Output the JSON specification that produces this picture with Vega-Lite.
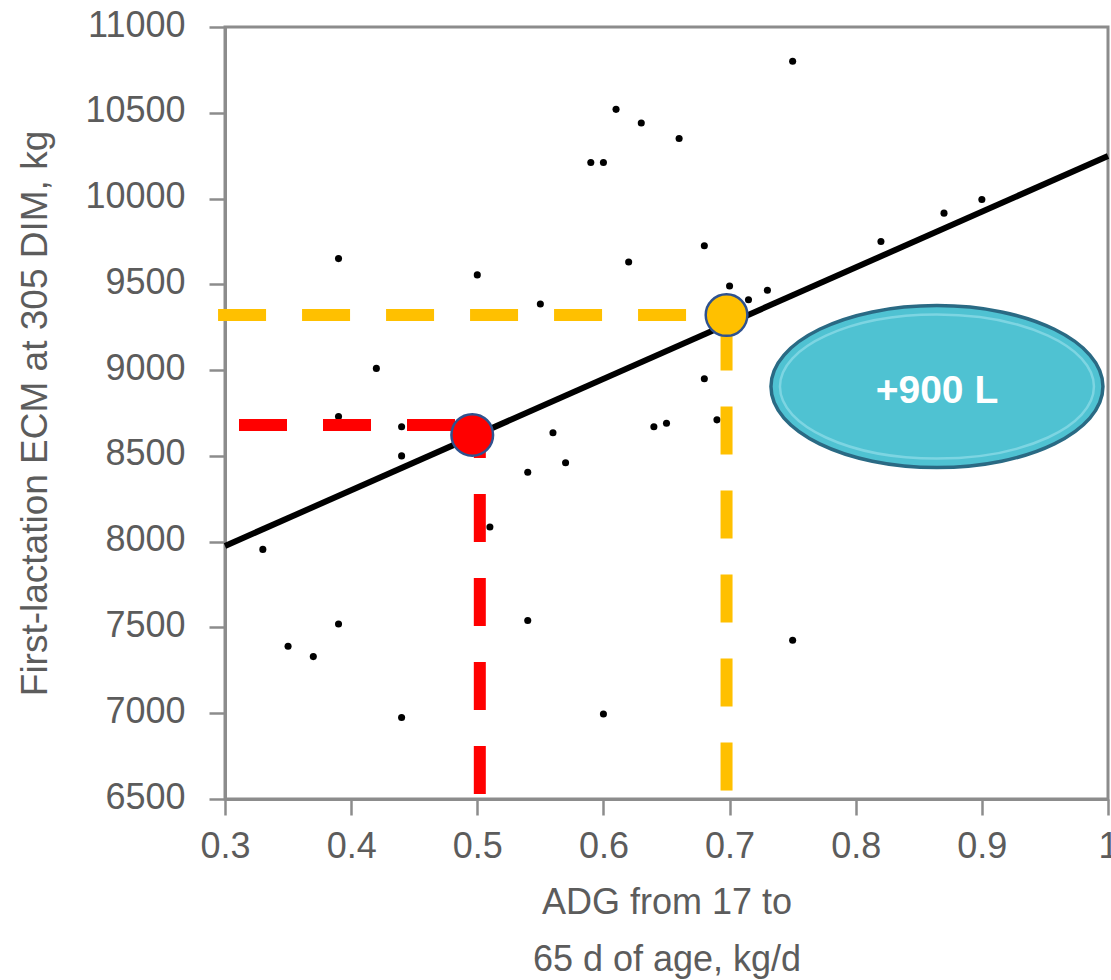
{
  "$schema": "https://vega.github.io/schema/vega-lite/v6.json",
  "width": 883,
  "height": 772,
  "autosize": {"type": "none"},
  "padding": {"left": 225, "top": 27, "right": 3, "bottom": 181},
  "background": "white",
  "config": {
    "view": {"stroke": "#8c8c8c", "strokeWidth": 3},
    "axis": {
      "grid": false,
      "domainColor": "#8c8c8c",
      "domainWidth": 3,
      "tickColor": "#8c8c8c",
      "tickWidth": 2.5,
      "tickSize": 16,
      "labelFont": "Liberation Sans",
      "labelFontSize": 36,
      "labelColor": "#5c5c5c",
      "labelOverlap": false,
      "labelBound": false,
      "labelFlush": false,
      "titleFont": "Liberation Sans",
      "titleFontWeight": "normal",
      "titleColor": "#5c5c5c"
    }
  },
  "datasets": {
    "points": [
      {"x": 0.33, "y": 7955}, {"x": 0.35, "y": 7390}, {"x": 0.37, "y": 7330},
      {"x": 0.39, "y": 9650}, {"x": 0.39, "y": 8730}, {"x": 0.39, "y": 7520},
      {"x": 0.42, "y": 9010}, {"x": 0.44, "y": 8670}, {"x": 0.44, "y": 8500},
      {"x": 0.44, "y": 6975}, {"x": 0.50, "y": 9555}, {"x": 0.51, "y": 8085},
      {"x": 0.54, "y": 8405}, {"x": 0.54, "y": 7540}, {"x": 0.55, "y": 9385},
      {"x": 0.56, "y": 8635}, {"x": 0.57, "y": 8460}, {"x": 0.59, "y": 10210},
      {"x": 0.60, "y": 10210}, {"x": 0.60, "y": 6995}, {"x": 0.61, "y": 10520},
      {"x": 0.62, "y": 9630}, {"x": 0.63, "y": 10440}, {"x": 0.64, "y": 8670},
      {"x": 0.65, "y": 8690}, {"x": 0.66, "y": 10350}, {"x": 0.68, "y": 9725},
      {"x": 0.68, "y": 8950}, {"x": 0.69, "y": 8710}, {"x": 0.70, "y": 9490},
      {"x": 0.715, "y": 9410}, {"x": 0.73, "y": 9465}, {"x": 0.75, "y": 10800},
      {"x": 0.75, "y": 7425}, {"x": 0.82, "y": 9750}, {"x": 0.87, "y": 9915},
      {"x": 0.90, "y": 9995}
    ],
    "fit": [
      {"x": 0.3, "y": 7975},
      {"x": 1.0, "y": 10248}
    ],
    "guides": [
      {"name": "low", "dir": "h", "x": 0.3111, "y": 8680, "x2": 0.502, "y2": 8680},
      {"name": "low", "dir": "v", "x": 0.502, "y": 8680, "x2": 0.502, "y2": 6500},
      {"name": "high", "dir": "h", "x": 0.2945, "y": 9321, "x2": 0.6976, "y2": 9321},
      {"name": "high", "dir": "v", "x": 0.6976, "y": 9321, "x2": 0.6976, "y2": 6500}
    ],
    "markers": [
      {"name": "low", "x": 0.496, "y": 8622},
      {"name": "high", "x": 0.6976, "y": 9321}
    ],
    "note": [
      {"x": 0.8644, "y": 8904, "label": "+900 L"}
    ]
  },
  "encoding": {
    "x": {
      "field": "x",
      "type": "quantitative",
      "scale": {"domain": [0.3, 1.0], "nice": false, "zero": false},
      "axis": {
        "values": [0.3, 0.4, 0.5, 0.6, 0.7, 0.8, 0.9, 1.0],
        "format": ".1~f",
        "labelPadding": 14,
        "title": ["ADG from 17 to", "65 d of age, kg/d"],
        "titleFontSize": 36,
        "titleLineHeight": 57,
        "titleX": 441.5,
        "titleY": 114,
        "titleAlign": "center",
        "titleBaseline": "alphabetic"
      }
    },
    "y": {
      "field": "y",
      "type": "quantitative",
      "scale": {"domain": [6500, 11000], "nice": false, "zero": false},
      "axis": {
        "values": [6500, 7000, 7500, 8000, 8500, 9000, 9500, 10000, 10500, 11000],
        "format": "d",
        "labelPadding": 24,
        "labelOffset": -2,
        "title": "First-lactation ECM at 305 DIM, kg",
        "titleFontSize": 37,
        "titleAngle": -90,
        "titleX": -179,
        "titleY": 386,
        "titleAlign": "center",
        "titleBaseline": "alphabetic"
      }
    }
  },
  "layer": [
    {
      "data": {"name": "points"},
      "mark": {"type": "circle", "size": 50, "color": "#000000", "opacity": 1}
    },
    {
      "data": {"name": "fit"},
      "mark": {"type": "line", "color": "#000000", "strokeWidth": 6},
      "encoding": {}
    },
    {
      "data": {"name": "guides"},
      "transform": [{"filter": "datum.name === 'low' && datum.dir === 'h'"}],
      "mark": {"type": "rule", "color": "#FF0000", "strokeWidth": 12, "strokeDash": [48, 36], "strokeDashOffset": 0, "strokeCap": "butt"},
      "encoding": {"x2": {"field": "x2"}, "y2": {"field": "y2"}}
    },
    {
      "data": {"name": "guides"},
      "transform": [{"filter": "datum.name === 'low' && datum.dir === 'v'"}],
      "mark": {"type": "rule", "color": "#FF0000", "strokeWidth": 12, "strokeDash": [48, 36], "strokeDashOffset": 15, "strokeCap": "butt"},
      "encoding": {"x2": {"field": "x2"}, "y2": {"field": "y2"}}
    },
    {
      "data": {"name": "guides"},
      "transform": [{"filter": "datum.name === 'high' && datum.dir === 'h'"}],
      "mark": {"type": "rule", "color": "#FFC000", "strokeWidth": 12, "strokeDash": [48, 36], "strokeDashOffset": 0, "strokeCap": "butt"},
      "encoding": {"x2": {"field": "x2"}, "y2": {"field": "y2"}}
    },
    {
      "data": {"name": "guides"},
      "transform": [{"filter": "datum.name === 'high' && datum.dir === 'v'"}],
      "mark": {"type": "rule", "color": "#FFC000", "strokeWidth": 12, "strokeDash": [48, 36], "strokeDashOffset": 76.5, "strokeCap": "butt"},
      "encoding": {"x2": {"field": "x2"}, "y2": {"field": "y2"}}
    },
    {
      "data": {"name": "markers"},
      "mark": {"type": "circle", "size": 1735, "stroke": "#2F528F", "strokeWidth": 2.5, "opacity": 1},
      "encoding": {
        "color": {
          "field": "name",
          "type": "nominal",
          "scale": {"domain": ["low", "high"], "range": ["#FF0000", "#FFC000"]},
          "legend": null
        }
      }
    },
    {
      "data": {"name": "note"},
      "mark": {
        "type": "point",
        "shape": "M1,0C1,0.2695,0.5523,0.488,0,0.488C-0.5523,0.488,-1,0.2695,-1,0C-1,-0.2695,-0.5523,-0.488,0,-0.488C0.5523,-0.488,1,-0.2695,1,0Z",
        "size": 110224,
        "filled": true,
        "fill": "#4FC2D2",
        "stroke": "#2A6A84",
        "strokeWidth": 3.5,
        "opacity": 1
      }
    },
    {
      "data": {"name": "note"},
      "mark": {
        "type": "point",
        "shape": "M1,0C1,0.2533,0.5523,0.4586,0,0.4586C-0.5523,0.4586,-1,0.2533,-1,0C-1,-0.2533,-0.5523,-0.4586,0,-0.4586C0.5523,-0.4586,1,-0.2533,1,0Z",
        "size": 98596,
        "filled": false,
        "stroke": "#7DD5E2",
        "strokeWidth": 2.5,
        "opacity": 1
      }
    },
    {
      "data": {"name": "note"},
      "mark": {
        "type": "text",
        "font": "Liberation Sans",
        "fontWeight": "bold",
        "fontSize": 39,
        "color": "#FFFFFF",
        "align": "center",
        "baseline": "middle",
        "dy": 4
      },
      "encoding": {"text": {"field": "label"}}
    }
  ]
}
